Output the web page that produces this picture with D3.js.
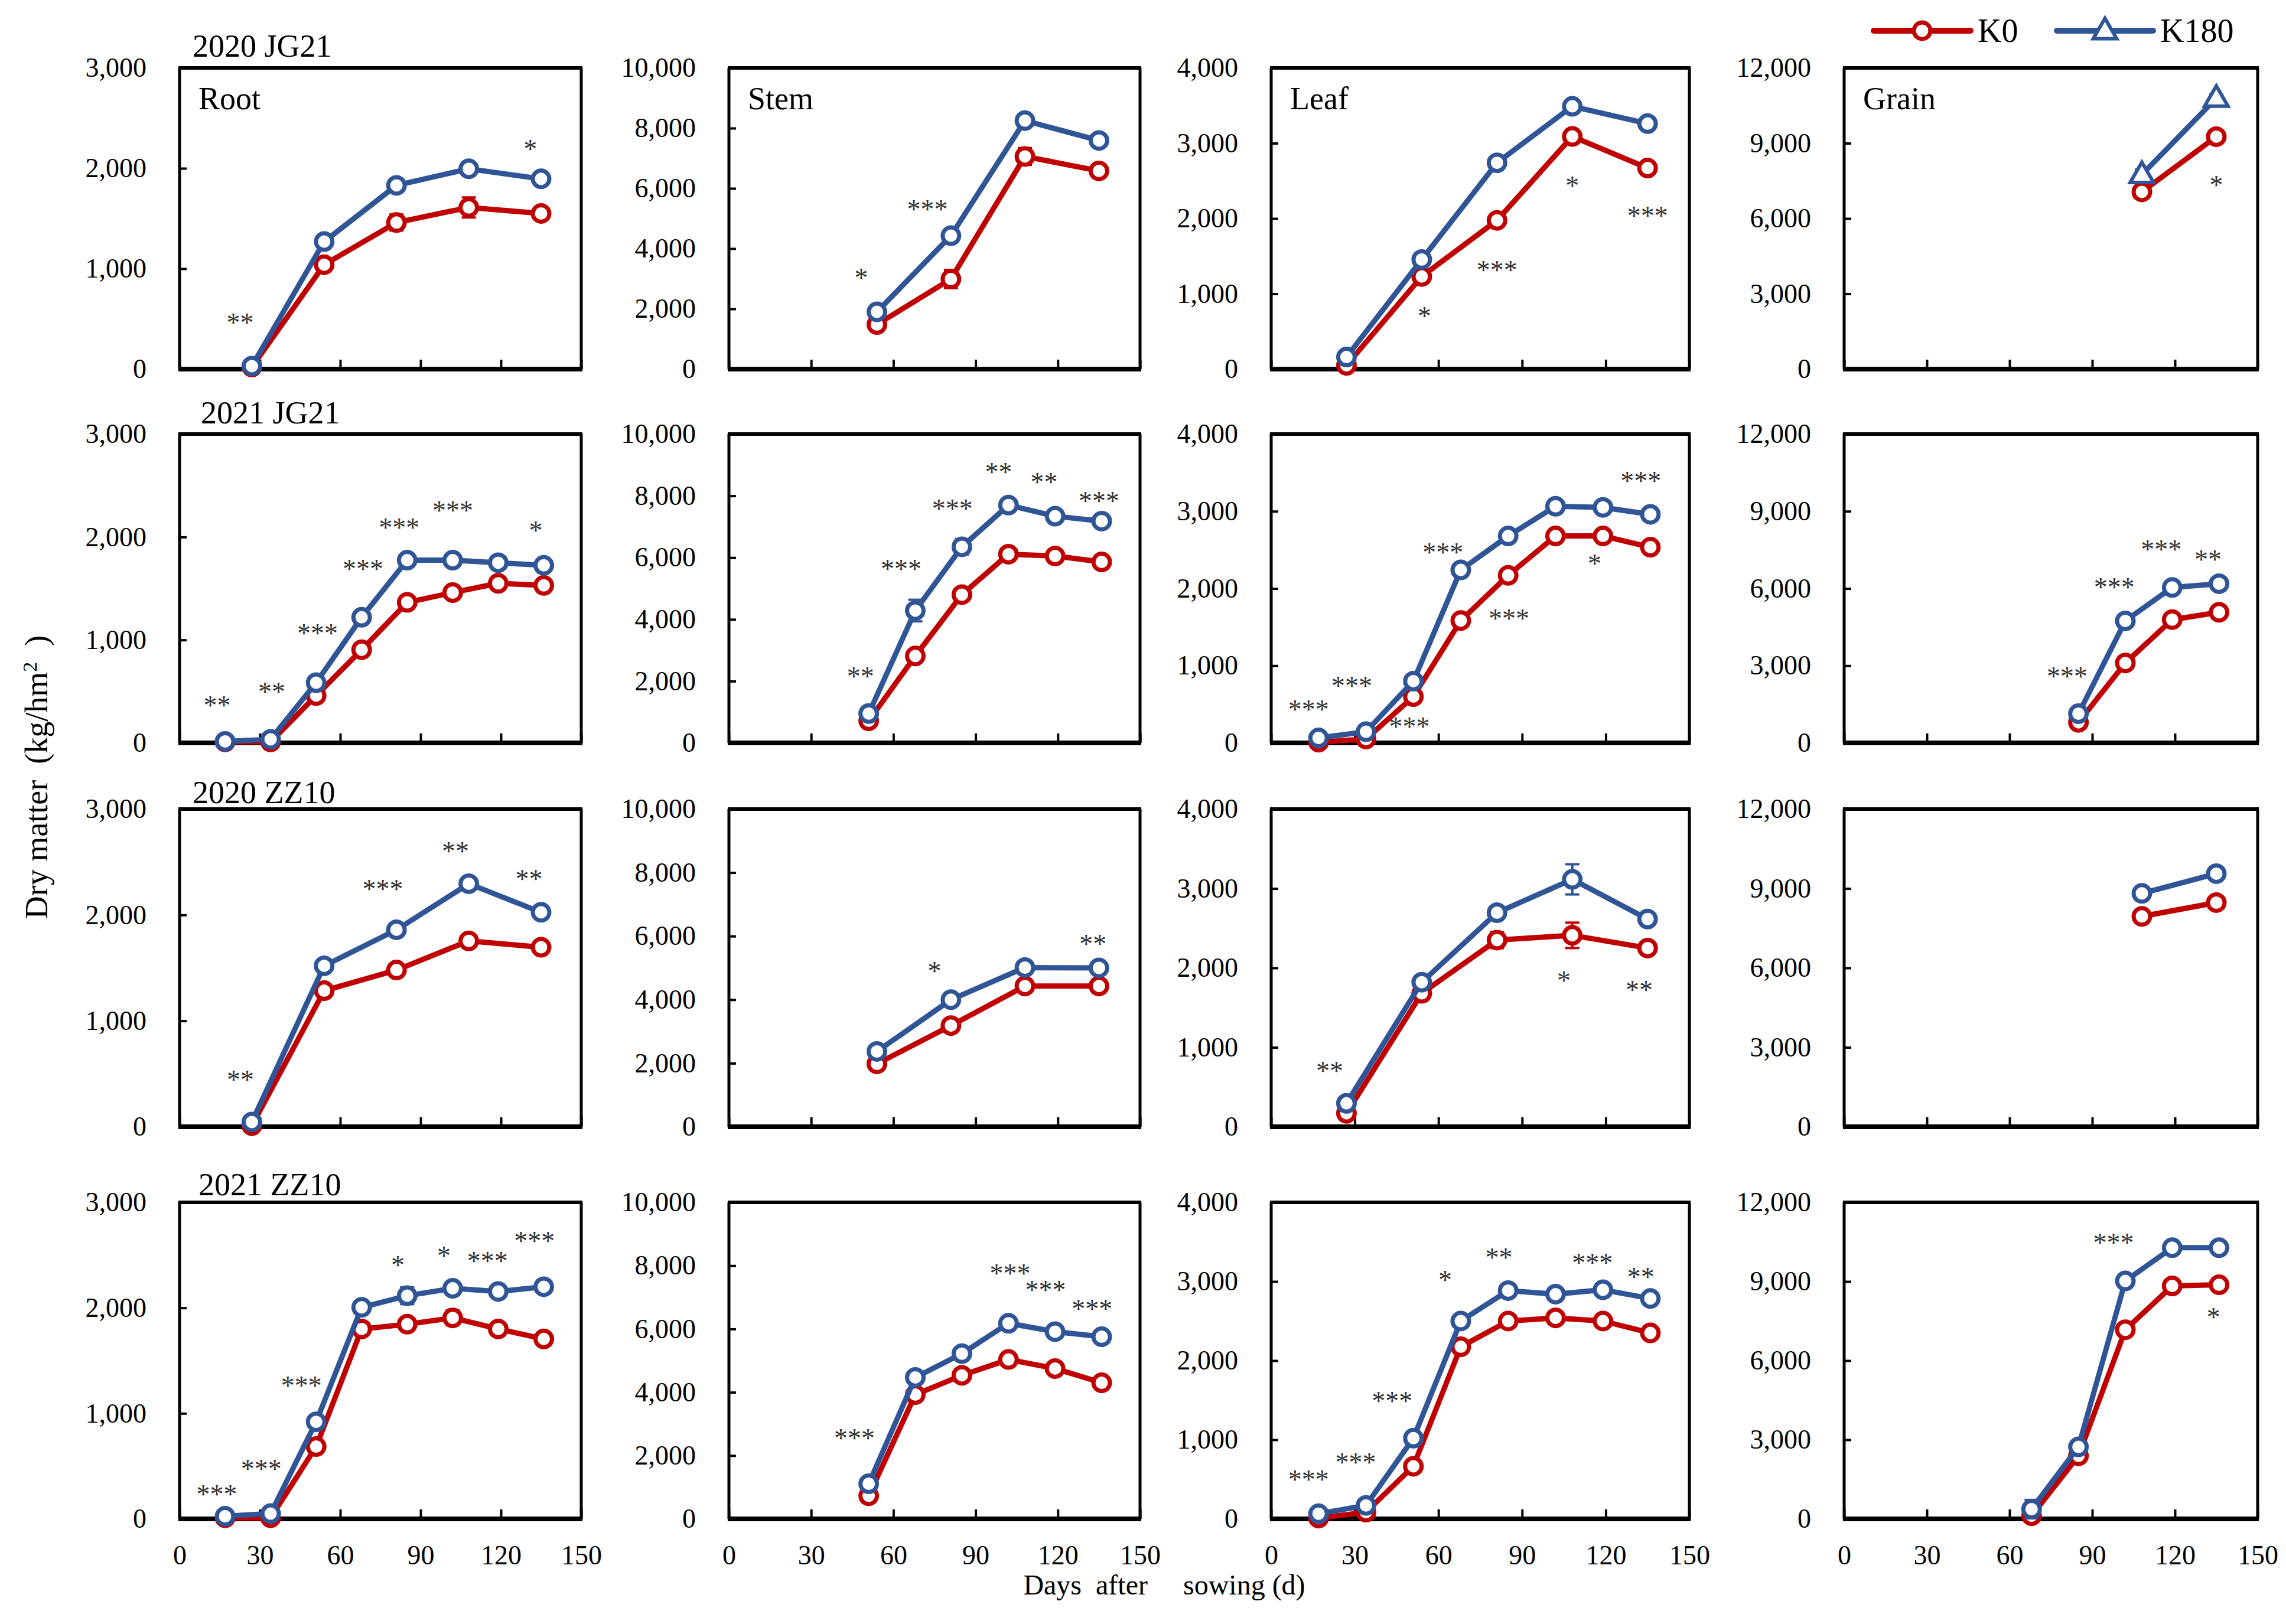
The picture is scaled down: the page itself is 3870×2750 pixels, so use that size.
<!DOCTYPE html>
<html>
<head>
<meta charset="utf-8">
<script src="https://cdn.jsdelivr.net/npm/d3@7/dist/d3.min.js"></script>
<style>
	body { margin: 0; background: #fff; }
	text { font-family: "Liberation Serif", "Times New Roman", serif; }
</style>
</head>
<body>
<svg id="chart" width="3870" height="2750"></svg>
<script>
const WIDTH = 3870,
	  HEIGHT = 2750;

const K0_COLOR = "#c00000",
	  K180_COLOR = "#2f5597",
	  STAR_COLOR = "#333333";

// sampling days
const days2020 = [27, 54, 81, 108, 135];
const days2021 = [17, 34, 51, 68, 85, 102, 119, 136];

const rowTitles = ["2020 JG21", "2021 JG21", "2020 ZZ10", "2021 ZZ10"];
const organs = ["Root", "Stem", "Leaf", "Grain"];
const yMax = [3000, 10000, 4000, 12000];
const yStep = [1000, 2000, 1000, 3000];
const xTicks = [0, 30, 60, 90, 120, 150];

// ---- 2020 JG21 ----
const jg20RootK0 = [20, 1040, 1460, 1610, 1550];
const jg20RootK180 = [30, 1270, 1830, 1995, 1895];
const jg20RootK0Err = [10, 40, 80, 100, 60];
const jg20RootK180Err = [10, 50, 60, 60, 50];
const jg20RootStars = [[22.6, 500, "**"], [131, 2230, "*"]];

const jg20StemK0 = [null, 1480, 2990, 7060, 6580];
const jg20StemK180 = [null, 1900, 4430, 8250, 7590];
const jg20StemK0Err = [null, 100, 300, 280, 120];
const jg20StemK180Err = [null, 100, 120, 120, 100];
const jg20StemStars = [[48.3, 3140, "*"], [72.4, 5420, "***"]];

const jg20LeafK0 = [50, 1230, 1975, 3090, 2670];
const jg20LeafK180 = [160, 1455, 2740, 3490, 3260];
const jg20LeafK0Err = [10, 50, 60, 60, 60];
const jg20LeafK180Err = [10, 60, 40, 50, 50];
const jg20LeafStars = [[55, 750, "*"], [81, 1360, "***"], [108, 2485, "*"], [135, 2080, "***"]];

const jg20GrainK0 = [null, null, null, 7060, 9260];
const jg20GrainK180 = [null, null, null, 7750, 10790];
const jg20GrainK0Err = [null, null, null, 150, 200];
const jg20GrainK180Err = [null, null, null, 200, 150];
const jg20GrainStars = [[135, 7470, "*"]];

// ---- 2021 JG21 ----
const jg21RootK0 = [10, 10, 460, 905, 1365, 1460, 1550, 1530];
const jg21RootK180 = [15, 35, 585, 1220, 1775, 1775, 1750, 1725];
const jg21RootK0Err = [5, 5, 20, 30, 40, 30, 30, 40];
const jg21RootK180Err = [5, 10, 30, 40, 60, 30, 50, 50];
const jg21RootStars = [[14, 400, "**"], [34.4, 530, "**"], [51.5, 1100, "***"], [68.5, 1725, "***"],
	[82, 2125, "***"], [102, 2290, "***"], [133, 2100, "*"]];

const jg21StemK0 = [null, null, 715, 2815, 4800, 6110, 6050, 5860];
const jg21StemK180 = [null, null, 950, 4285, 6350, 7700, 7340, 7180];
const jg21StemK0Err = [null, null, 80, 150, 150, 120, 120, 150];
const jg21StemK180Err = [null, null, 100, 350, 250, 100, 100, 120];
const jg21StemStars = [[48, 2260, "**"], [62.8, 5750, "***"], [81.5, 7700, "***"], [98.4, 8890, "**"],
	[115, 8555, "**"], [135, 7940, "***"]];

const jg21LeafK0 = [10, 50, 600, 1585, 2170, 2680, 2680, 2535];
const jg21LeafK180 = [65, 145, 800, 2240, 2680, 3065, 3050, 2960];
const jg21LeafK0Err = [5, 10, 30, 60, 50, 60, 50, 50];
const jg21LeafK180Err = [10, 20, 40, 60, 50, 60, 50, 60];
const jg21LeafStars = [[13.4, 480, "***"], [28.9, 785, "***"], [49.6, 255, "***"], [61.6, 2510, "***"],
	[85.3, 1655, "***"], [116, 2370, "*"], [132.6, 3440, "***"]];

const jg21GrainK0 = [null, null, null, null, 800, 3105, 4790, 5075];
const jg21GrainK180 = [null, null, null, null, 1135, 4740, 6040, 6185];
const jg21GrainK0Err = [null, null, null, null, 100, 150, 200, 150];
const jg21GrainK180Err = [null, null, null, null, 150, 200, 200, 150];
const jg21GrainStars = [[80.9, 2720, "***"], [98, 6185, "***"], [115, 7655, "***"], [132, 7260, "**"]];

// ---- 2020 ZZ10 ----
const zz20RootK0 = [10, 1285, 1480, 1755, 1695];
const zz20RootK180 = [45, 1520, 1860, 2295, 2025];
const zz20RootK0Err = [10, 40, 40, 60, 50];
const zz20RootK180Err = [10, 50, 40, 50, 50];
const zz20RootStars = [[22.7, 480, "**"], [75.9, 2280, "***"], [103, 2635, "**"], [130.5, 2375, "**"]];

const zz20StemK0 = [null, 1980, 3185, 4430, 4430];
const zz20StemK180 = [null, 2370, 4000, 5010, 5000];
const zz20StemK0Err = [null, 100, 120, 100, 100];
const zz20StemK180Err = [null, 100, 100, 120, 100];
const zz20StemStars = [[75, 5010, "*"], [132.8, 5865, "**"]];

const zz20LeafK0 = [170, 1680, 2350, 2410, 2250];
const zz20LeafK180 = [295, 1820, 2695, 3115, 2615];
const zz20LeafK0Err = [20, 60, 100, 160, 60];
const zz20LeafK180Err = [30, 60, 70, 190, 60];
const zz20LeafStars = [[21, 750, "**"], [105, 1885, "*"], [132, 1765, "**"]];

const zz20GrainK0 = [null, null, null, 7945, 8465];
const zz20GrainK180 = [null, null, null, 8815, 9560];
const zz20GrainK0Err = [null, null, null, 150, 150];
const zz20GrainK180Err = [null, null, null, 150, 150];
const zz20GrainStars = [];

// ---- 2021 ZZ10 ----
const zz21RootK0 = [10, 10, 685, 1800, 1845, 1905, 1800, 1705];
const zz21RootK180 = [25, 50, 920, 2005, 2115, 2185, 2155, 2200];
const zz21RootK0Err = [5, 5, 20, 60, 40, 70, 30, 40];
const zz21RootK180Err = [5, 10, 30, 40, 80, 50, 50, 60];
const zz21RootStars = [[13.9, 265, "***"], [30.5, 505, "***"], [45.5, 1295, "***"], [81.5, 2440, "*"],
	[98.7, 2525, "*"], [115, 2480, "***"], [132.5, 2670, "***"]];

const zz21StemK0 = [null, null, 730, 3925, 4535, 5035, 4750, 4300];
const zz21StemK180 = [null, null, 1110, 4470, 5220, 6180, 5915, 5755];
const zz21StemK0Err = [null, null, 80, 150, 150, 150, 150, 150];
const zz21StemK180Err = [null, null, 100, 150, 150, 150, 150, 150];
const zz21StemStars = [[45.8, 2655, "***"], [102.6, 7870, "***"], [115.5, 7350, "***"], [132.5, 6740, "***"]];

const zz21LeafK0 = [10, 85, 665, 2175, 2500, 2540, 2500, 2350];
const zz21LeafK180 = [65, 170, 1020, 2500, 2885, 2840, 2895, 2785];
const zz21LeafK0Err = [5, 10, 30, 60, 50, 60, 50, 50];
const zz21LeafK180Err = [10, 20, 40, 60, 50, 80, 50, 60];
const zz21LeafStars = [[13.4, 545, "***"], [30.3, 760, "***"], [43.4, 1535, "***"], [62.4, 3065, "*"],
	[81.7, 3345, "**"], [115.2, 3280, "***"], [132.6, 3100, "**"]];

const zz21GrainK0 = [null, null, null, 120, 2390, 7170, 8830, 8875];
const zz21GrainK180 = [null, null, null, 370, 2730, 9020, 10280, 10280];
const zz21GrainK0Err = [null, null, null, 50, 200, 200, 200, 200];
const zz21GrainK180Err = [null, null, null, 350, 200, 200, 200, 200];
const zz21GrainStars = [[97.7, 10595, "***"], [134, 7785, "*"]];

// panel table built from the arrays above
const rows = [
	{ days: days2020, panels: [
		[jg20RootK0, jg20RootK180, jg20RootK0Err, jg20RootK180Err, jg20RootStars],
		[jg20StemK0, jg20StemK180, jg20StemK0Err, jg20StemK180Err, jg20StemStars],
		[jg20LeafK0, jg20LeafK180, jg20LeafK0Err, jg20LeafK180Err, jg20LeafStars],
		[jg20GrainK0, jg20GrainK180, jg20GrainK0Err, jg20GrainK180Err, jg20GrainStars, true]] },
	{ days: days2021, panels: [
		[jg21RootK0, jg21RootK180, jg21RootK0Err, jg21RootK180Err, jg21RootStars],
		[jg21StemK0, jg21StemK180, jg21StemK0Err, jg21StemK180Err, jg21StemStars],
		[jg21LeafK0, jg21LeafK180, jg21LeafK0Err, jg21LeafK180Err, jg21LeafStars],
		[jg21GrainK0, jg21GrainK180, jg21GrainK0Err, jg21GrainK180Err, jg21GrainStars]] },
	{ days: days2020, panels: [
		[zz20RootK0, zz20RootK180, zz20RootK0Err, zz20RootK180Err, zz20RootStars],
		[zz20StemK0, zz20StemK180, zz20StemK0Err, zz20StemK180Err, zz20StemStars],
		[zz20LeafK0, zz20LeafK180, zz20LeafK0Err, zz20LeafK180Err, zz20LeafStars],
		[zz20GrainK0, zz20GrainK180, zz20GrainK0Err, zz20GrainK180Err, zz20GrainStars]] },
	{ days: days2021, panels: [
		[zz21RootK0, zz21RootK180, zz21RootK0Err, zz21RootK180Err, zz21RootStars],
		[zz21StemK0, zz21StemK180, zz21StemK0Err, zz21StemK180Err, zz21StemStars],
		[zz21LeafK0, zz21LeafK180, zz21LeafK0Err, zz21LeafK180Err, zz21LeafStars],
		[zz21GrainK0, zz21GrainK180, zz21GrainK0Err, zz21GrainK180Err, zz21GrainStars]] }
];

// layout
const colLeft = [304, 1234, 2152, 3122],
	  colWidth = [680, 696, 708, 700];
const rowTop = [115, 735, 1370, 2036],
	  rowBottom = [625, 1258, 1908, 2572];
const rowTitleX = [22, 36, 22, 32],
	  rowTitleY = [-19, -18, -10, -12];

const svg = d3.select("#chart");

svg.append("rect")
	.attr("width", WIDTH)
	.attr("height", HEIGHT)
	.attr("fill", "#fff");

const trianglePath = d3.symbol().type(d3.symbolTriangle).size(680);

// draw one series: line, error bars, markers
function drawSeries(g, x, y, days, vals, errs, color, triangle) {
	let pts = days.map((d, i) => ({ d: d, v: vals[i], e: errs[i] })).filter(p => p.v != null);

	let line = d3.line()
		.x(p => x(p.d))
		.y(p => y(p.v));

	g.append("path")
		.datum(pts)
		.attr("d", line)
		.attr("fill", "none")
		.attr("stroke", color)
		.attr("stroke-width", 9)
		.attr("stroke-linejoin", "round");

	// error bars
	let eb = g.append("g")
		.attr("stroke", color)
		.attr("stroke-width", 4);

	pts.forEach(p => {
		let cx = x(p.d),
			y1 = y(p.v + p.e),
			y2 = y(Math.max(0, p.v - p.e));
		eb.append("line").attr("x1", cx).attr("x2", cx).attr("y1", y1).attr("y2", y2);
		eb.append("line").attr("x1", cx - 12).attr("x2", cx + 12).attr("y1", y1).attr("y2", y1);
		eb.append("line").attr("x1", cx - 12).attr("x2", cx + 12).attr("y1", y2).attr("y2", y2);
	});

	// markers
	if (triangle) {
		g.selectAll(null)
			.data(pts)
			.enter().append("path")
			.attr("d", trianglePath)
			.attr("transform", p => "translate(" + x(p.d) + "," + (y(p.v) + 2) + ")")
			.attr("fill", "#fff")
			.attr("stroke", color)
			.attr("stroke-width", 6);
	}
	else {
		g.selectAll(null)
			.data(pts)
			.enter().append("circle")
			.attr("cx", p => x(p.d))
			.attr("cy", p => y(p.v))
			.attr("r", 14)
			.attr("fill", "#fff")
			.attr("stroke", color)
			.attr("stroke-width", 7);
	}
}

function styleTicks(axisG) {
	axisG.attr("font-family", null).attr("font-size", null);
	axisG.select(".domain").remove();
	axisG.selectAll(".tick line").attr("stroke", "#000").attr("stroke-width", 4);
	axisG.selectAll(".tick text")
		.attr("fill", "#000")
		.style("font-size", "46px");
}

function drawPanel(r, c) {
	let row = rows[r],
		panel = row.panels[c];

	let left = colLeft[c],
		right = colLeft[c] + colWidth[c],
		top = rowTop[r],
		bottom = rowBottom[r];

	let x = d3.scaleLinear().domain([0, 150]).range([left, right]);
	let y = d3.scaleLinear().domain([0, yMax[c]]).range([bottom, top]);

	let g = svg.append("g");

	// y axis
	let yAxis = d3.axisLeft(y)
		.tickValues(d3.range(0, yMax[c] + 1, yStep[c]))
		.tickSize(-12)
		.tickPadding(56)
		.tickFormat(d3.format(","));

	let ya = g.append("g")
		.attr("transform", "translate(" + left + ",0)")
		.call(yAxis);
	styleTicks(ya);

	// x axis, labels on the bottom row only
	let xAxis = d3.axisBottom(x)
		.tickValues(xTicks)
		.tickSize(-16)
		.tickPadding(44)
		.tickFormat(r == rows.length - 1 ? d3.format("d") : () => "");

	let xa = g.append("g")
		.attr("transform", "translate(0," + bottom + ")")
		.call(xAxis);
	styleTicks(xa);

	// frame
	let frame = g.append("g").attr("stroke", "#000");
	frame.append("line").attr("x1", left - 2).attr("x2", right + 2).attr("y1", top).attr("y2", top).attr("stroke-width", 6);
	frame.append("line").attr("x1", left - 2).attr("x2", right + 2).attr("y1", bottom).attr("y2", bottom).attr("stroke-width", 8);
	frame.append("line").attr("x1", left).attr("x2", left).attr("y1", top).attr("y2", bottom).attr("stroke-width", 5);
	frame.append("line").attr("x1", right).attr("x2", right).attr("y1", top).attr("y2", bottom).attr("stroke-width", 5);

	// series
	drawSeries(g, x, y, row.days, panel[0], panel[2], K0_COLOR, false);
	drawSeries(g, x, y, row.days, panel[1], panel[3], K180_COLOR, panel[5] === true);

	// significance stars
	g.selectAll(null)
		.data(panel[4])
		.enter().append("text")
		.attr("x", s => x(s[0]))
		.attr("y", s => y(s[1]))
		.attr("dy", "0.47em")
		.attr("text-anchor", "middle")
		.attr("fill", STAR_COLOR)
		.style("font-size", "46px")
		.text(s => s[2]);

	// organ name in the first row
	if (r == 0) {
		g.append("text")
			.attr("x", left + 32)
			.attr("y", top + 70)
			.style("font-size", "54px")
			.text(organs[c]);
	}

	// row title above the first column
	if (c == 0) {
		g.append("text")
			.attr("x", left + rowTitleX[r])
			.attr("y", top + rowTitleY[r])
			.style("font-size", "54px")
			.text(rowTitles[r]);
	}
}

for (let r = 0; r < rows.length; r ++) {
	for (let c = 0; c < organs.length; c ++) {
		drawPanel(r, c);
	}
}

// y axis title
let yTitle = svg.append("text")
	.attr("transform", "translate(80,1316) rotate(-90)")
	.attr("text-anchor", "middle")
	.style("font-size", "54px")
	.style("white-space", "pre");
yTitle.append("tspan").text("Dry matter  (kg/hm");
yTitle.append("tspan").attr("baseline-shift", "super").style("font-size", "34px").text("2");
yTitle.append("tspan").text("  )");

// x axis title
svg.append("text")
	.attr("x", 1971)
	.attr("y", 2700)
	.attr("text-anchor", "middle")
	.style("font-size", "48px")
	.style("white-space", "pre")
	.text("Days  after     sowing (d)");

// legend
let legend = svg.append("g");

function legendItem(x0, x1, color, label, triangle) {
	legend.append("line")
		.attr("x1", x0).attr("x2", x1)
		.attr("y1", 52).attr("y2", 52)
		.attr("stroke", color)
		.attr("stroke-width", 10)
		.attr("stroke-linecap", "round");

	let mx = (x0 + x1) / 2;
	if (triangle) {
		legend.append("path")
			.attr("d", trianglePath)
			.attr("transform", "translate(" + mx + ",54)")
			.attr("fill", "#fff")
			.attr("stroke", color)
			.attr("stroke-width", 6);
	}
	else {
		legend.append("circle")
			.attr("cx", mx).attr("cy", 52).attr("r", 14)
			.attr("fill", "#fff")
			.attr("stroke", color)
			.attr("stroke-width", 7);
	}

	legend.append("text")
		.attr("x", x1 + 12)
		.attr("y", 71)
		.style("font-size", "56px")
		.text(label);
}

legendItem(3172, 3336, K0_COLOR, "K0", false);
legendItem(3482, 3645, K180_COLOR, "K180", true);
</script>
</body>
</html>
